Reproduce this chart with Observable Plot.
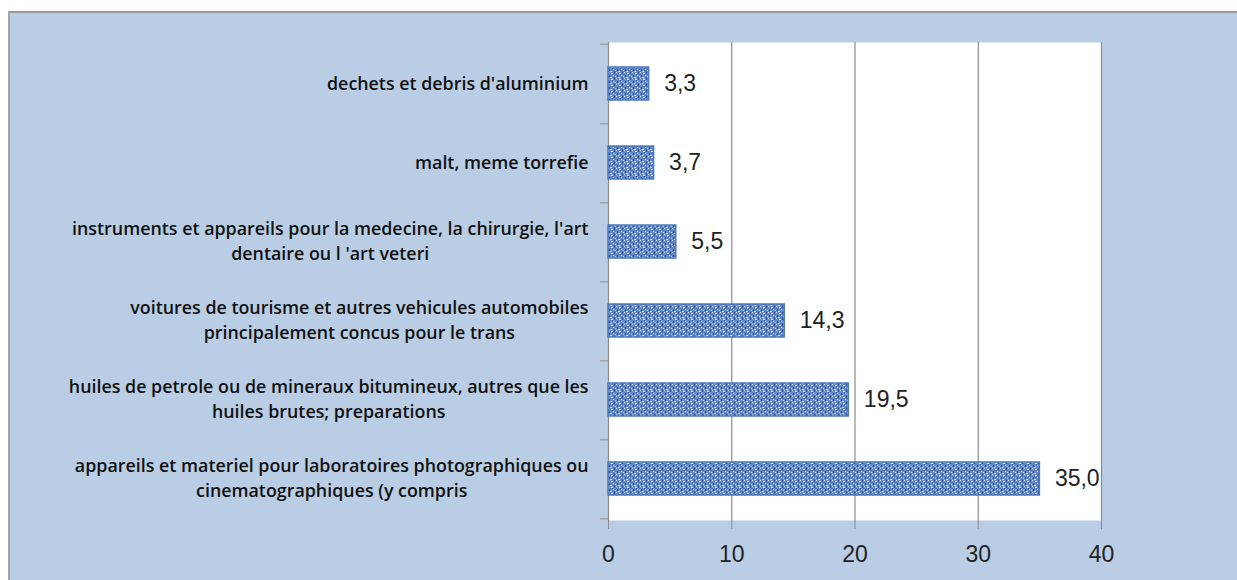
<!DOCTYPE html>
<html><head><meta charset="utf-8">
<script src="https://cdn.jsdelivr.net/npm/d3@7"></script>
<script src="https://cdn.jsdelivr.net/npm/@observablehq/plot@0.6"></script>
<style>
body{margin:0;background:#fff;}
#wrap{position:relative;width:1237px;height:580px;overflow:hidden;}
#bg{position:absolute;left:8px;top:11px;width:1240px;height:580px;background:#b9cde5;border-top:2px solid #9a9a9a;border-left:2px solid #a5a5a5;}
#chart{position:absolute;left:0;top:0;}
</style></head><body>
<div id="wrap"><div id="bg"></div><div id="chart"></div></div>
<script>
const categories = [
  "dechets et debris d'aluminium",
  "malt, meme torrefie",
  "instruments et appareils pour la medecine, la chirurgie, l'art\ndentaire ou l 'art veteri",
  "voitures de tourisme et autres vehicules automobiles\nprincipalement concus pour le trans",
  "huiles de petrole ou de mineraux bitumineux, autres que les\nhuiles brutes; preparations",
  "appareils et materiel pour laboratoires photographiques ou\ncinematographiques (y compris"
];
const values = [3.3, 3.7, 5.5, 14.3, 19.5, 35.0];
const xTicks = [0, 10, 20, 30, 40];

const W = 1237, H = 580, mL = 608, mR = 136, mT = 42, mB = 60;
const pxPerUnit = (W - mL - mR) / 40;
const step = (H - mT - mB) / categories.length;
const family = "Open Sans";
const weight = 600;
const ctx = document.createElement("canvas").getContext("2d");
ctx.font = `${weight} 16px '${family}'`;
const widest = d3.max(categories, c => ctx.measureText(c.split("\n")[0]).width);
const fontSize = 16 * 520 / widest;
ctx.font = `${weight} ${fontSize}px '${family}'`;

const data = categories.map((c, i) => ({cat: c, value: values[i]}));
const single = [], first = [], second = [];
for (const c of categories) {
  const lines = c.split("\n");
  if (lines.length === 1) single.push({cat: c, text: lines[0]});
  else {
    const w0 = ctx.measureText(lines[0]).width;
    first.push({cat: c, text: lines[0]});
    second.push({cat: c, text: lines[1], x: -(20 + w0 / 2) / pxPerUnit});
  }
}
const fmt = v => v.toFixed(1).replace(".", ",");
const txt = {fontFamily: family, fontWeight: weight, fontSize, fill: "#111"};

const chart = Plot.plot({
  width: W, height: H,
  marginLeft: mL, marginRight: mR, marginTop: mT, marginBottom: mB,
  style: {background: "transparent", overflow: "visible", fontFamily: "Liberation Sans"},
  x: {domain: [0, 40]},
  y: {domain: categories, paddingInner: 0.58, paddingOuter: 0.29, axis: null},
  marks: [
    Plot.frame({fill: "white", stroke: null}),
    Plot.ruleX(xTicks.slice(1), {stroke: "#8c8c8c", strokeWidth: 1.2}),
    Plot.ruleX([0], {stroke: "#8c8c8c", strokeWidth: 1.2}),
    Plot.ruleY([0], {frameAnchor: "bottom", stroke: "#8c8c8c"}),
    Plot.ruleY(categories, {y: d => d, x1: -0.65, x2: 0, dy: step / 2, stroke: "#8c8c8c"}),
    Plot.ruleY(categories.slice(0, 1), {y: d => d, x1: -0.65, x2: 0, dy: -step / 2, stroke: "#8c8c8c"}),
    Plot.axisX({ticks: xTicks, tickSize: 9, tickPadding: 16, fontSize: 23, stroke: "#8c8c8c", fill: "#222", tickFormat: d => String(d)}),
    Plot.barX(data, {x: "value", y: "cat", fill: "url(#spk)", stroke: "#4a7cc0", strokeWidth: 1.5}),
    Plot.text(data, {x: "value", y: "cat", text: d => fmt(d.value), textAnchor: "start", dx: 15, fontSize: 23, fill: "#222"}),
    Plot.text(single, {x: 0, y: "cat", text: "text", textAnchor: "end", dx: -20, ...txt}),
    Plot.text(first, {x: 0, y: "cat", text: "text", textAnchor: "end", dx: -20, dy: -12.5, ...txt}),
    Plot.text(second, {x: "x", y: "cat", text: "text", textAnchor: "middle", dy: 12.5, ...txt})
  ]
});

const ns = "http://www.w3.org/2000/svg";
const defs = document.createElementNS(ns, "defs");
defs.innerHTML = `<pattern id="spk" width="8" height="6" patternUnits="userSpaceOnUse">
  <rect width="8" height="6" fill="#6488cc"/>
  <rect x="0" y="0" width="1" height="1" fill="#dfe8f8"/>
  <rect x="3" y="1" width="2" height="1" fill="#e8eefa"/>
  <rect x="6" y="0" width="1" height="2" fill="#2d4d92"/>
  <rect x="1" y="3" width="1" height="2" fill="#2d4d92"/>
  <rect x="5" y="3" width="1" height="1" fill="#dfe8f8"/>
  <rect x="7" y="4" width="1" height="1" fill="#c9d8f2"/>
  <rect x="2" y="5" width="2" height="1" fill="#c9d8f2"/>
  <rect x="4" y="2" width="1" height="1" fill="#3c5da3"/>
  <rect x="6" y="5" width="1" height="1" fill="#3c5da3"/>
</pattern>`;
chart.insertBefore(defs, chart.firstChild);
document.getElementById("chart").appendChild(chart);
</script>
</body></html>
